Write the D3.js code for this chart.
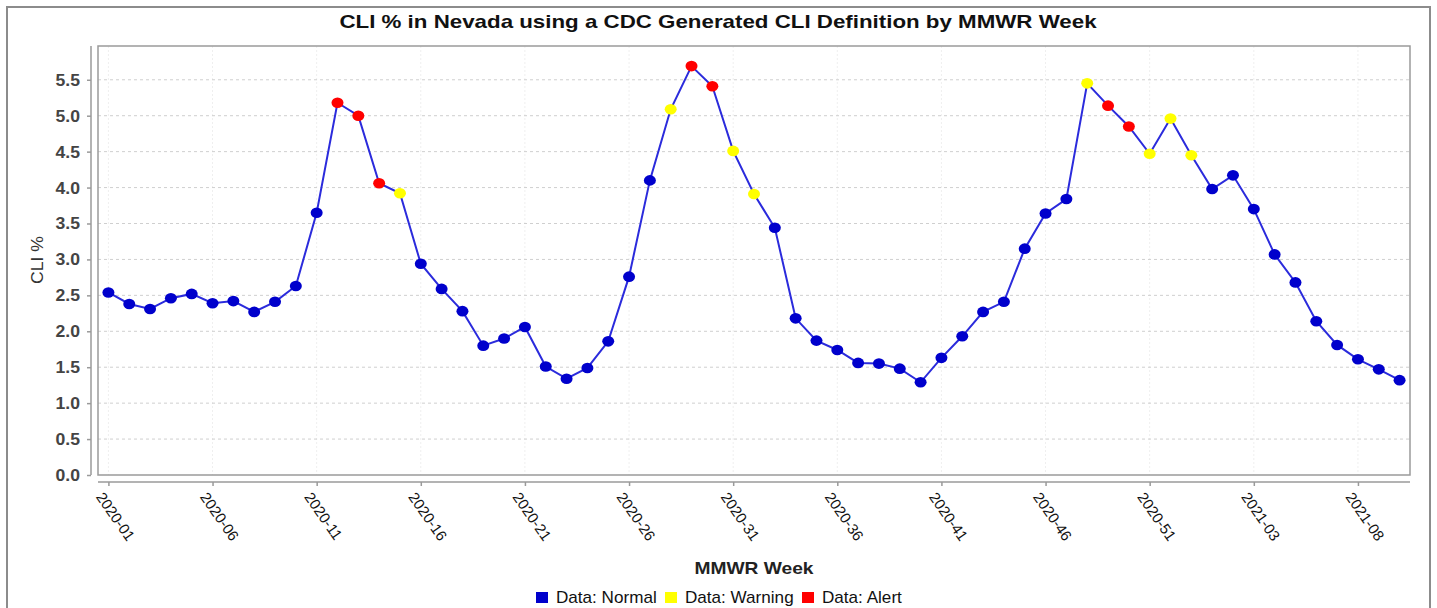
<!DOCTYPE html>
<html><head><meta charset="utf-8">
<script src="https://cdn.jsdelivr.net/npm/d3@7"></script>
<style>
html,body{margin:0;padding:0;background:#fff;}
svg{display:block;font-family:"Liberation Sans",Arial,sans-serif;}
</style></head>
<body>
<svg id="chart" width="1437" height="608"></svg>
<script>
const weeks = [
 "2020-01","2020-02","2020-03","2020-04","2020-05","2020-06","2020-07","2020-08","2020-09","2020-10",
 "2020-11","2020-12","2020-13","2020-14","2020-15","2020-16","2020-17","2020-18","2020-19","2020-20",
 "2020-21","2020-22","2020-23","2020-24","2020-25","2020-26","2020-27","2020-28","2020-29","2020-30",
 "2020-31","2020-32","2020-33","2020-34","2020-35","2020-36","2020-37","2020-38","2020-39","2020-40",
 "2020-41","2020-42","2020-43","2020-44","2020-45","2020-46","2020-47","2020-48","2020-49","2020-50",
 "2020-51","2020-52","2020-53","2021-01","2021-02","2021-03","2021-04","2021-05","2021-06","2021-07",
 "2021-08","2021-09","2021-10"];
const cliValues = [
 2.54,2.38,2.31,2.46,2.52,2.39,2.42,2.27,2.41,2.63,
 3.65,5.18,5.00,4.06,3.92,2.94,2.59,2.28,1.80,1.90,
 2.06,1.51,1.34,1.49,1.86,2.76,4.10,5.09,5.69,5.41,
 4.51,3.91,3.44,2.18,1.87,1.74,1.56,1.55,1.48,1.29,
 1.63,1.93,2.27,2.41,3.15,3.64,3.84,5.45,5.14,4.85,
 4.47,4.96,4.45,3.98,4.17,3.70,3.07,2.68,2.14,1.81,
 1.61,1.47,1.32];
const status = [
 "N","N","N","N","N","N","N","N","N","N",
 "N","A","A","A","W","N","N","N","N","N",
 "N","N","N","N","N","N","N","W","A","A",
 "W","W","N","N","N","N","N","N","N","N",
 "N","N","N","N","N","N","N","W","A","A",
 "W","W","W","N","N","N","N","N","N","N",
 "N","N","N"];
const xTickLabels = ["2020-01","2020-06","2020-11","2020-16","2020-21","2020-26","2020-31","2020-36","2020-41","2020-46","2020-51","2021-03","2021-08"];
const yTicks = [0,0.5,1,1.5,2,2.5,3,3.5,4,4.5,5,5.5];
const legendKeys = ["N","W","A"];
const legendLabels = ["Data: Normal","Data: Warning","Data: Alert"];
const statusColors = {N:"#0000cc", W:"#ffff00", A:"#ff0000"};

const svg = d3.select("#chart");
const L = 98, R = 1410, T = 46, B = 475;

// helper: horizontally stretched text (reference image is slightly stretched)
function stext(parent, x, y, str, size, sx, opts={}) {
  const g = parent.append("g").attr("transform",`translate(${x},${y})`);
  const t = g.append("text").attr("transform",`scale(${sx},1)`)
    .attr("font-size",size).attr("fill",opts.fill||"#111")
    .attr("font-weight",opts.weight||"normal")
    .attr("text-anchor",opts.anchor||"start").text(str);
  return t;
}

// outer frame
svg.append("rect").attr("x",7).attr("y",7).attr("width",1423).attr("height",640)
  .attr("fill","none").attr("stroke","#8c8c8c").attr("stroke-width",2);

const x = d3.scalePoint().domain(weeks).range([L,R]).padding(0.5);
const y = d3.scaleLinear().domain([0,5.97]).range([B,T]);

// vertical faint grid
svg.append("g").selectAll("line").data(xTickLabels).join("line")
  .attr("x1",d=>x(d)).attr("x2",d=>x(d)).attr("y1",T).attr("y2",B)
  .attr("stroke","#efefef").attr("stroke-width",1).attr("stroke-dasharray","2,2");
// horizontal dashed grid
svg.append("g").selectAll("line").data(yTicks.filter(v=>v>0)).join("line")
  .attr("x1",L).attr("x2",R).attr("y1",d=>y(d)).attr("y2",d=>y(d))
  .attr("stroke","#cfcfcf").attr("stroke-width",1).attr("stroke-dasharray","3,3");

// plot frame
svg.append("rect").attr("x",L).attr("y",T).attr("width",R-L).attr("height",B-T)
  .attr("fill","none").attr("stroke","#9a9a9a").attr("stroke-width",1.5);

// y axis (offset)
const yAxis = svg.append("g").attr("transform","translate(91,0)")
  .call(d3.axisLeft(y).tickValues(yTicks).tickFormat("").tickSize(4));
yAxis.select(".domain").attr("stroke","#9a9a9a").attr("stroke-width",1.5).attr("d",`M0,${T}V${B}`);
yAxis.selectAll(".tick line").attr("stroke","#9a9a9a").attr("stroke-width",1.5);
const yfmt = d3.format(".1f");
yTicks.forEach(v => stext(svg, 80, y(v)+6, yfmt(v), 16, 1.1, {weight:"bold", fill:"#444", anchor:"end"}));

// x axis (offset)
const xAxis = svg.append("g").attr("transform","translate(0,482)")
  .call(d3.axisBottom(x).tickValues(xTickLabels).tickSize(4).tickFormat(""));
xAxis.select(".domain").attr("stroke","#9a9a9a").attr("stroke-width",1.5).attr("d",`M${L},0H${R}`);
xAxis.selectAll(".tick line").attr("stroke","#9a9a9a").attr("stroke-width",1.5);
svg.append("g").selectAll("text").data(xTickLabels).join("text")
  .attr("transform",d=>`translate(${x(d)-13},497) rotate(55)`)
  .attr("font-size",15).attr("fill","#111").text(d=>d);

// line
const line = d3.line().x((d,i)=>x(weeks[i])).y(d=>y(d));
svg.append("path").datum(cliValues).attr("d",line)
  .attr("fill","none").attr("stroke","#2b2bdc").attr("stroke-width",2);

// points
svg.append("g").selectAll("ellipse").data(cliValues).join("ellipse")
  .attr("cx",(d,i)=>x(weeks[i])).attr("cy",d=>y(d)).attr("rx",6).attr("ry",5.3)
  .attr("fill",(d,i)=>statusColors[status[i]]);

// titles
stext(svg, 718, 28, "CLI % in Nevada using a CDC Generated CLI Definition by MMWR Week", 19, 1.175, {weight:"bold", anchor:"middle"});
svg.append("g").attr("transform","translate(43,260) rotate(-90)")
  .append("text").attr("transform","scale(1.1,1)").attr("text-anchor","middle")
  .attr("font-size",16).attr("fill","#333").text("CLI %");
stext(svg, 754, 574, "MMWR Week", 16, 1.2, {weight:"bold", fill:"#222", anchor:"middle"});

// legend
const legendX = [536,665,802];
legendKeys.forEach((k,i) => {
  svg.append("rect").attr("x",legendX[i]).attr("y",592).attr("width",12).attr("height",11).attr("fill",statusColors[k]);
  stext(svg, legendX[i]+20, 603, legendLabels[i], 16, 1.07, {fill:"#111"});
});
</script>
</body></html>
